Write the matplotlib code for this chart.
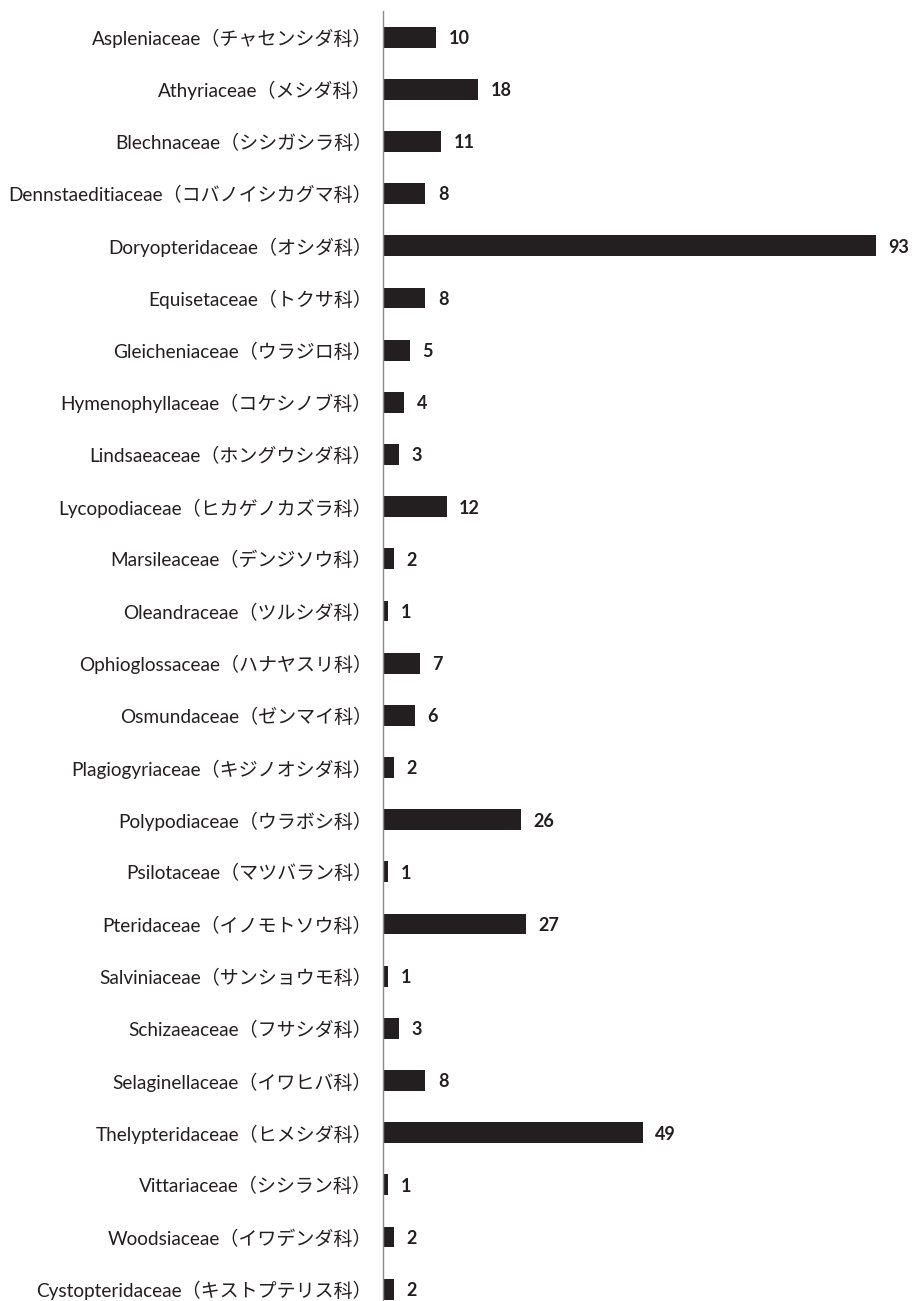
import matplotlib
matplotlib.use("Agg")
import matplotlib.pyplot as plt

families = [
    "Aspleniaceae（チャセンシダ科）",
    "Athyriaceae（メシダ科）",
    "Blechnaceae（シシガシラ科）",
    "Dennstaeditiaceae（コバノイシカグマ科）",
    "Doryopteridaceae（オシダ科）",
    "Equisetaceae（トクサ科）",
    "Gleicheniaceae（ウラジロ科）",
    "Hymenophyllaceae（コケシノブ科）",
    "Lindsaeaceae（ホングウシダ科）",
    "Lycopodiaceae（ヒカゲノカズラ科）",
    "Marsileaceae（デンジソウ科）",
    "Oleandraceae（ツルシダ科）",
    "Ophioglossaceae（ハナヤスリ科）",
    "Osmundaceae（ゼンマイ科）",
    "Plagiogyriaceae（キジノオシダ科）",
    "Polypodiaceae（ウラボシ科）",
    "Psilotaceae（マツバラン科）",
    "Pteridaceae（イノモトソウ科）",
    "Salviniaceae（サンショウモ科）",
    "Schizaeaceae（フサシダ科）",
    "Selaginellaceae（イワヒバ科）",
    "Thelypteridaceae（ヒメシダ科）",
    "Vittariaceae（シシラン科）",
    "Woodsiaceae（イワデンダ科）",
    "Cystopteridaceae（キストプテリス科）",
]
species_counts = [10, 18, 11, 8, 93, 8, 5, 4, 3, 12, 2, 1, 7, 6, 2, 26, 1, 27, 1, 3, 8, 49, 1, 2, 2]

font_list = ["Lato", "Noto Sans CJK JP", "DejaVu Sans"]
plt.rcParams["font.family"] = font_list

W, H, DPI = 915, 1301, 100
fig = plt.figure(figsize=(W / DPI, H / DPI), dpi=DPI)

ink = "#231f20"
px_per_unit = 5.3
x_max = 100
left_px, top_px = 383, 11
row_px = 52.17
n = len(families)
ax_h_px = row_px * n
ax = fig.add_axes([left_px / W, 1 - (top_px + ax_h_px) / H,
                   x_max * px_per_unit / W, ax_h_px / H])

pos = list(range(n))
ax.barh(pos, species_counts, height=0.4, color=ink, edgecolor="none")
ax.set_ylim(n - 0.5, -0.5)
ax.set_xlim(0, x_max)

for p, v in zip(pos, species_counts):
    ax.annotate(str(v), xy=(v, p), xytext=(9, -1), textcoords="offset points",
                ha="left", va="center", fontsize=13, fontweight="bold",
                color=ink, family=font_list)

ax.set_yticks(pos)
ax.set_yticklabels(families, fontsize=13.7, color=ink, family=font_list)
ax.tick_params(axis="y", length=0, pad=8)
ax.set_xticks([])
for side in ["top", "right", "bottom"]:
    ax.spines[side].set_visible(False)
ax.spines["left"].set_color("#8c8c8c")
ax.spines["left"].set_linewidth(1.0)

fig.savefig("out.png", dpi=DPI)
